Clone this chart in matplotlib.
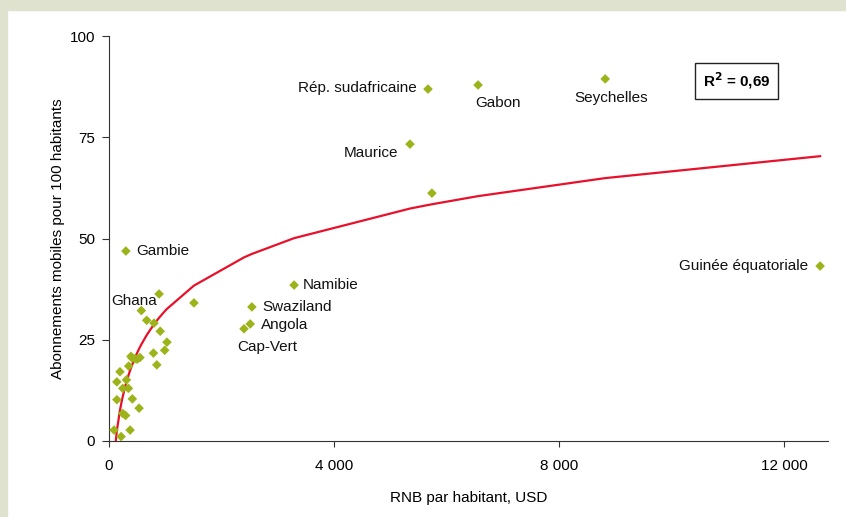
import numpy as np
import matplotlib.pyplot as plt
from matplotlib.patches import Rectangle
from matplotlib.ticker import FuncFormatter

plt.rcParams['font.family'] = ['Liberation Sans', 'DejaVu Sans']

# RNB par habitant (USD) et abonnements mobiles pour 100 habitants
labelled = ["Gambie", "Ghana", "Namibie", "Swaziland", "Angola", "Cap-Vert",
            "Maurice", "Rép. sudafricaine", "Gabon", "Seychelles",
            "Guinée équatoriale"]
labelled_gni = [300, 890, 3290, 2540, 2510, 2400, 5350, 5670, 6560, 8820, 12640]
labelled_mob = [46.9, 36.3, 38.5, 33.1, 28.9, 27.7, 73.3, 86.9, 87.9, 89.4, 43.2]

other_gni = [5740, 1510, 575, 670, 800, 910, 1030, 990, 790, 850,
             390, 410, 460, 550, 500, 195, 350, 140, 310, 245,
             345, 415, 140, 245, 295, 535, 90, 215, 375]
other_mob = [61.2, 34.1, 32.2, 29.8, 29.1, 27.1, 24.4, 22.4, 21.7, 18.8,
             20.9, 20.5, 20.3, 20.6, 20.2, 17.1, 18.5, 14.6, 15.1, 13.0,
             13.0, 10.4, 10.2, 6.8, 6.3, 8.1, 2.7, 1.1, 2.7]

# label offsets in pixels (dx, dy, ha)
label_pos = {
    "Gambie": (10, 0, "left"),
    "Ghana": (-2, -7, "right"),
    "Namibie": (9, 0, "left"),
    "Swaziland": (10, 0, "left"),
    "Angola": (11, -1, "left"),
    "Cap-Vert": (23, -18, "center"),
    "Maurice": (-12, -9, "right"),
    "Rép. sudafricaine": (-11, 1, "right"),
    "Gabon": (20, -18, "center"),
    "Seychelles": (6, -19, "center"),
    "Guinée équatoriale": (-12, 0, "right"),
}

gni = np.array(labelled_gni + other_gni, dtype=float)
mob = np.array(labelled_mob + other_mob, dtype=float)

# logarithmic trend
a, b = np.polyfit(np.log(gni), mob, 1)
order = np.argsort(gni)
trend = a * np.log(gni[order]) + b

fig = plt.figure(figsize=(8.46, 5.17), dpi=100)
fig.patches.append(Rectangle((0, 1 - 10 / 517), 1, 10 / 517, transform=fig.transFigure,
                             color="#dfe2cf", zorder=0))
fig.patches.append(Rectangle((0, 0), 7 / 846, 1, transform=fig.transFigure,
                             color="#dfe2cf", zorder=0))

ax = fig.add_axes([109 / 846, 1 - 441 / 517, 719 / 846, 405 / 517])
ax.plot(gni[order], trend, color="#e8102a", lw=1.6, zorder=2)
ax.scatter(gni, mob, marker="D", s=24, color="#9cb419", edgecolors="none", zorder=3)

for name, x, y in zip(labelled, labelled_gni, labelled_mob):
    dx, dy, ha = label_pos[name]
    ax.annotate(name, (x, y), xytext=(dx, dy), textcoords="offset pixels",
                ha=ha, va="center", fontsize=11, color="#111111")

ax.text(0.873, 0.889, "R$^{\\mathbf{2}}$ = 0,69", transform=ax.transAxes,
        ha="center", va="center", fontsize=11, fontweight="bold",
        bbox=dict(boxstyle="square,pad=0.5", fc="white", ec="#222222", lw=1))

ax.set_xlim(0, 12780)
ax.set_ylim(0, 100)
ax.set_xticks([0, 4000, 8000, 12000])
ax.set_yticks([0, 25, 50, 75, 100])
ax.xaxis.set_major_formatter(FuncFormatter(lambda v, p: f"{v:,.0f}".replace(",", " ")))
for s in ["top", "right"]:
    ax.spines[s].set_visible(False)
for s in ["left", "bottom"]:
    ax.spines[s].set_color("#333333")
ax.tick_params(axis="x", length=4, pad=9, labelsize=11, color="#333333")
ax.tick_params(axis="y", length=5, pad=5, labelsize=11, color="#333333")
ax.set_xlabel("RNB par habitant, USD", fontsize=11, labelpad=13)
ax.set_ylabel("Abonnements mobiles pour 100 habitants", fontsize=11, labelpad=3)

fig.savefig("out.png", dpi=100)
